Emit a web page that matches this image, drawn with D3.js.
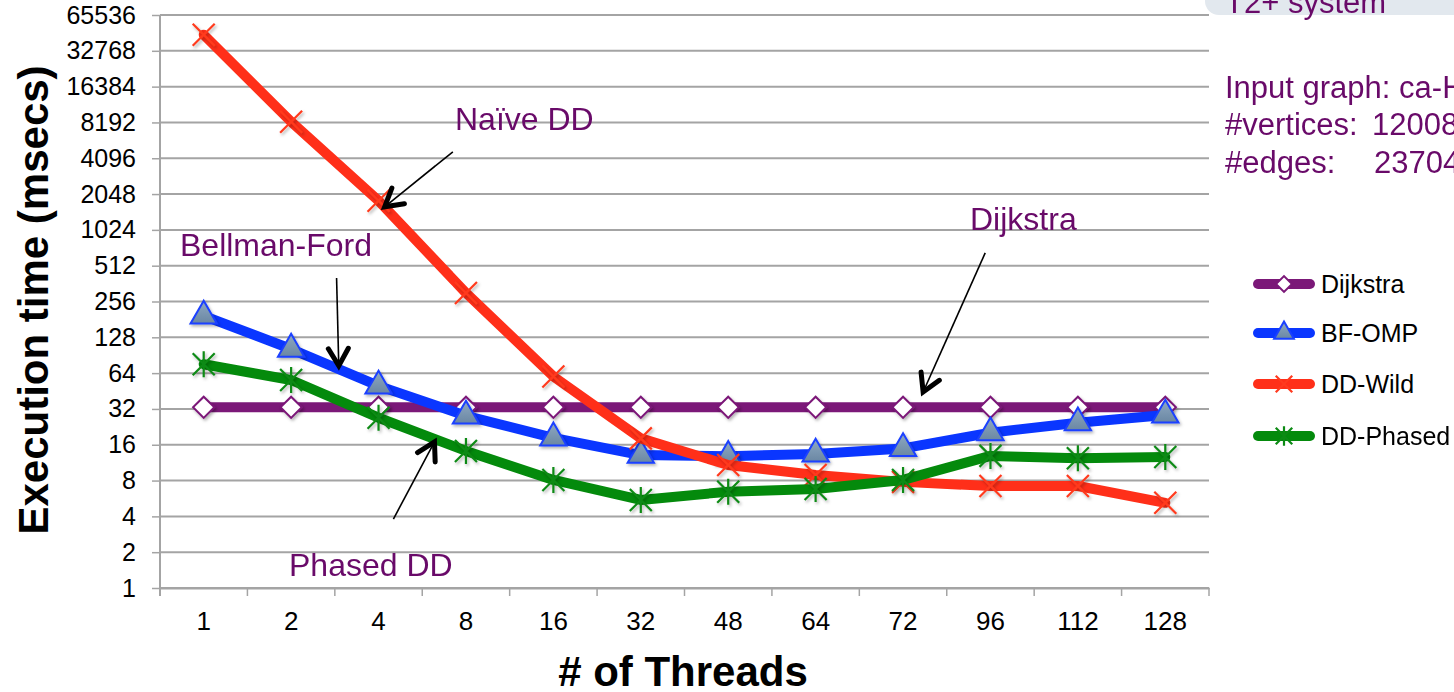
<!DOCTYPE html>
<html>
<head>
<meta charset="utf-8">
<script src="https://cdn.jsdelivr.net/npm/d3@7"></script>
<style>
  body { margin: 0; background: #fff; }
  svg { display: block; font-family: "Liberation Sans", Arial, sans-serif; }
</style>
</head>
<body>
<svg id="chart" width="1454" height="692"></svg>
<script>
// Thread counts on the x axis (categorical)
const threads = ["1", "2", "4", "8", "16", "32", "48", "64", "72", "96", "112", "128"];

// Execution time in milliseconds per thread count
const dijkstra = [33, 33, 33, 33, 33, 33, 33, 33, 33, 33, 33, 33];
const bfOmp    = [194, 102, 50, 28, 18.3, 13.1, 12.8, 13.4, 14.9, 20.2, 24.5, 28.5];
const ddWild   = [44700, 8300, 1800, 302, 60, 18.1, 10.8, 8.9, 7.8, 7.2, 7.2, 5.2];
const ddPhased = [76, 56, 27, 14.2, 8.1, 5.5, 6.45, 6.8, 8.1, 12.9, 12.3, 12.6];

// Power-of-two ticks on the log axis
const yTicks = [1, 2, 4, 8, 16, 32, 64, 128, 256, 512, 1024, 2048, 4096, 8192, 16384, 32768, 65536];

const seriesNames = ["Dijkstra", "BF-OMP", "DD-Wild", "DD-Phased"];

const svg = d3.select("#chart");
const plotLeft = 160, plotRight = 1209, plotTop = 15, plotBottom = 588;

const x = d3.scaleBand().domain(threads).range([plotLeft, plotRight]);
const y = d3.scaleLog().base(2).domain([1, 65536]).range([plotBottom, plotTop]);
const cx = c => x(c) + x.bandwidth() / 2;
// fractional category position for annotation anchors
const xi = d3.scaleLinear().domain([0, threads.length - 1]).range([cx(threads[0]), cx(threads[threads.length - 1])]);

const defs = svg.append("defs");
const shadow = defs.append("filter").attr("id", "shadow")
  .attr("x", "-50%").attr("y", "-50%").attr("width", "200%").attr("height", "200%");
shadow.append("feDropShadow").attr("dx", 1.5).attr("dy", 2).attr("stdDeviation", 1.5)
  .attr("flood-color", "#000").attr("flood-opacity", 0.3);
const grad = defs.append("linearGradient").attr("id", "triFill").attr("x1", 0).attr("y1", 0).attr("x2", 0).attr("y2", 1);
grad.append("stop").attr("offset", "0%").attr("stop-color", "#8fa9c2");
grad.append("stop").attr("offset", "100%").attr("stop-color", "#6a87a3");

// Horizontal gridlines
svg.append("g").selectAll("line").data(yTicks).join("line")
  .attr("x1", plotLeft).attr("x2", plotRight)
  .attr("y1", d => y(d)).attr("y2", d => y(d))
  .attr("stroke", "#a4a4a4").attr("stroke-width", 2);

// Y axis
const yAxis = svg.append("g").attr("transform", `translate(${plotLeft},0)`)
  .call(d3.axisLeft(y).tickValues(yTicks).tickSize(8).tickPadding(16).tickFormat(d3.format("d")));
yAxis.select(".domain").remove();
yAxis.selectAll(".tick line").attr("stroke", "#a4a4a4").attr("stroke-width", 1.5);
yAxis.selectAll(".tick text").attr("font-size", 25).attr("fill", "#000")
  .attr("font-family", "'Liberation Sans', Arial, sans-serif");
svg.append("line").attr("x1", plotLeft).attr("x2", plotLeft).attr("y1", plotTop).attr("y2", plotBottom + 8)
  .attr("stroke", "#a4a4a4").attr("stroke-width", 2);

// X axis: labels at band centres, tick marks at band edges
const xAxis = svg.append("g").attr("transform", `translate(0,${plotBottom})`)
  .call(d3.axisBottom(x).tickSize(0).tickPadding(24));
xAxis.select(".domain").attr("stroke", "#a4a4a4").attr("stroke-width", 2);
xAxis.selectAll(".tick text").attr("font-size", 26).attr("fill", "#000")
  .attr("font-family", "'Liberation Sans', Arial, sans-serif");
svg.append("g").selectAll("line").data(threads.map(t => x(t)).concat([plotRight])).join("line")
  .attr("x1", d => d).attr("x2", d => d).attr("y1", plotBottom).attr("y2", plotBottom + 8)
  .attr("stroke", "#a4a4a4").attr("stroke-width", 1.5);

// Axis titles
svg.append("text").attr("x", 683).attr("y", 686).attr("text-anchor", "middle")
  .attr("font-size", 42).attr("font-weight", "bold").text("# of Threads");
svg.append("text").attr("transform", "translate(48,300) rotate(-90)").attr("text-anchor", "middle")
  .attr("font-size", 42).attr("font-weight", "bold").text("Execution time (msecs)");

// Marker shapes
const markers = {
  "Dijkstra": (g, s) => g.append("rect").attr("x", -7.5 * s).attr("y", -7.5 * s)
      .attr("width", 15 * s).attr("height", 15 * s).attr("transform", "rotate(45)")
      .attr("fill", "#fff").attr("stroke", "#7b1878").attr("stroke-width", 2),
  "BF-OMP": (g, s) => g.append("path").attr("d", d3.symbol(d3.symbolTriangle, 300 * s * s)())
      .attr("fill", "url(#triFill)").attr("stroke", "#1a40ff").attr("stroke-width", 2),
  "DD-Wild": (g, s) => g.append("path")
      .attr("d", `M${-11 * s},${-11 * s}L${11 * s},${11 * s}M${-11 * s},${11 * s}L${11 * s},${-11 * s}`)
      .attr("stroke", "#ff3a1f").attr("stroke-width", 2.2).attr("fill", "none"),
  "DD-Phased": (g, s) => g.append("path")
      .attr("d", `M${-11 * s},${-11 * s}L${11 * s},${11 * s}M${-11 * s},${11 * s}L${11 * s},${-11 * s}M0,${-13 * s}L0,${13 * s}`)
      .attr("stroke", "#0c8a14").attr("stroke-width", 2.2).attr("fill", "none")
};

const series = [
  { name: "Dijkstra", values: dijkstra, color: "#7b1878", width: 10 },
  { name: "BF-OMP", values: bfOmp, color: "#0a36ff", width: 10 },
  { name: "DD-Wild", values: ddWild, color: "#ff2f19", width: 10 },
  { name: "DD-Phased", values: ddPhased, color: "#048a0c", width: 10 }
];

const line = d3.line().x(d => cx(d.t)).y(d => y(d.v));
const plot = svg.append("g");
series.forEach(s => {
  const pts = threads.map((t, i) => ({ t, v: s.values[i] }));
  plot.append("path").datum(pts).attr("d", line)
    .attr("fill", "none").attr("stroke", s.color).attr("stroke-width", s.width)
    .attr("stroke-linejoin", "round").attr("stroke-linecap", "round");
  const mg = plot.append("g").attr("filter", "url(#shadow)");
  pts.forEach(p => {
    const g = mg.append("g").attr("transform", `translate(${cx(p.t)},${y(p.v)})`);
    markers[s.name](g, 1);
  });
});

// Legend
const legendRows = [284, 333, 384, 436];
const legend = svg.append("g");
series.forEach((s, i) => {
  const ly = legendRows[i];
  legend.append("line").attr("x1", 1258).attr("x2", 1310).attr("y1", ly).attr("y2", ly)
    .attr("stroke", s.color).attr("stroke-width", 10).attr("stroke-linecap", "round");
  const g = legend.append("g").attr("transform", `translate(1284,${ly})`);
  markers[s.name](g, 0.75);
  legend.append("text").attr("x", 1321).attr("y", ly + 9).attr("font-size", 25)
    .attr("fill", "#000").text(seriesNames[i]);
});

// Callout labels with arrows (anchors in data space: category index, value)
const purple = "#690a69";
const callouts = [
  { text: "Naïve DD",     tx: 455, ty: 130, from: [2.85, 4640], to: [2.07, 1600] },
  { text: "Bellman-Ford", tx: 180, ty: 256, from: [1.52, 404],  to: [1.545, 73.7] },
  { text: "Dijkstra",     tx: 970, ty: 230, from: [8.94, 656],  to: [8.23, 44.4] },
  { text: "Phased DD",    tx: 289, ty: 576, from: [2.17, 3.8],  to: [2.64, 16.9] }
];
const notes = svg.append("g");
callouts.forEach(c => {
  notes.append("text").attr("x", c.tx).attr("y", c.ty).attr("font-size", 32)
    .attr("fill", purple).text(c.text);
  const x1 = xi(c.from[0]), y1 = y(c.from[1]), x2 = xi(c.to[0]), y2 = y(c.to[1]);
  notes.append("line").attr("x1", x1).attr("y1", y1).attr("x2", x2).attr("y2", y2)
    .attr("stroke", "#000").attr("stroke-width", 1.6);
  const ang = Math.atan2(y2 - y1, x2 - x1), L = 20, spread = Math.PI / 6;
  const a1 = [x2 - L * Math.cos(ang - spread), y2 - L * Math.sin(ang - spread)];
  const a2 = [x2 - L * Math.cos(ang + spread), y2 - L * Math.sin(ang + spread)];
  notes.append("path").attr("d", `M${a1[0]},${a1[1]}L${x2},${y2}L${a2[0]},${a2[1]}`)
    .attr("fill", "none").attr("stroke", "#000").attr("stroke-width", 5)
    .attr("stroke-linecap", "round").attr("stroke-linejoin", "miter");
});

// System / input graph notes at the top right
svg.append("rect").attr("x", 1205).attr("y", -30).attr("width", 280).attr("height", 45)
  .attr("rx", 14).attr("fill", "#e2e8ee");
svg.append("text").attr("x", 1225).attr("y", 13).attr("font-size", 31).attr("fill", purple)
  .text("T2+ system");
const info = svg.append("g").attr("font-size", 31).attr("fill", purple);
info.append("text").attr("x", 1225).attr("y", 98).text("Input graph: ca-HepPh");
info.append("text").attr("x", 1225).attr("y", 135).text("#vertices:");
info.append("text").attr("x", 1372).attr("y", 135).text("12008");
info.append("text").attr("x", 1225).attr("y", 173).text("#edges:");
info.append("text").attr("x", 1374).attr("y", 173).text("23704");
</script>
</body>
</html>
